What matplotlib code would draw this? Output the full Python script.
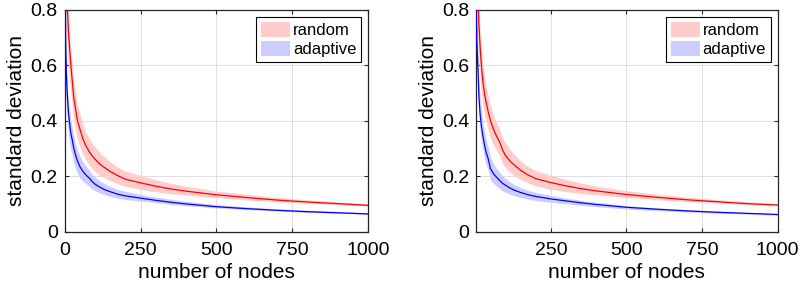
import matplotlib
matplotlib.use("Agg")
import matplotlib.pyplot as plt
import numpy as np
from matplotlib.patches import Patch

plt.rcParams["font.family"] = ["Liberation Sans", "DejaVu Sans"]

# sample points (number of nodes) and values
n_left = [1, 3, 5, 8, 12, 16, 20, 25, 30, 36, 42, 50, 60, 70, 80, 90, 100,
          115, 130, 150, 175, 200, 250, 300, 350, 400, 500, 600, 700, 800, 900, 1000]
red_left = [1.6, 1.2, 1.0, 0.82, 0.72, 0.66, 0.6, 0.54, 0.48, 0.44, 0.40, 0.37,
            0.335, 0.31, 0.29, 0.275, 0.262, 0.245, 0.233, 0.218, 0.203, 0.19,
            0.177, 0.165, 0.155, 0.147, 0.134, 0.124, 0.115, 0.108, 0.102, 0.096]
blue_left = [1.1, 0.68, 0.58, 0.5, 0.43, 0.39, 0.355, 0.33, 0.3, 0.275, 0.255,
             0.235, 0.218, 0.205, 0.195, 0.182, 0.172, 0.162, 0.153, 0.145, 0.136,
             0.13, 0.122, 0.114, 0.107, 0.101, 0.091, 0.084, 0.078, 0.073, 0.069, 0.065]

n_right = [2, 3, 5, 8, 12, 16, 20, 25, 30, 36, 42, 50, 60, 70, 80, 90, 100,
           115, 130, 150, 175, 200, 250, 300, 350, 400, 500, 600, 700, 800, 900, 1000]
red_right = [1.3, 1.15, 1.0, 0.85, 0.74, 0.66, 0.6, 0.54, 0.5, 0.465, 0.435, 0.40,
             0.37, 0.345, 0.325, 0.295, 0.275, 0.255, 0.24, 0.222, 0.205, 0.192,
             0.178, 0.166, 0.156, 0.148, 0.135, 0.125, 0.116, 0.109, 0.102, 0.097]
blue_right = [0.95, 0.8, 0.68, 0.6, 0.48, 0.42, 0.38, 0.345, 0.315, 0.285, 0.265,
              0.228, 0.21, 0.197, 0.186, 0.175, 0.168, 0.158, 0.15, 0.142, 0.134,
              0.128, 0.119, 0.112, 0.105, 0.099, 0.089, 0.082, 0.076, 0.071, 0.067, 0.063]

# half-width of the shaded bands
red_spread = [0.1, 0.1, 0.1, 0.1, 0.1, 0.09, 0.08, 0.075, 0.07, 0.065, 0.06, 0.06,
              0.055, 0.05, 0.048, 0.046, 0.045, 0.042, 0.038, 0.034, 0.03, 0.028,
              0.025, 0.022, 0.019, 0.016, 0.012, 0.01, 0.008, 0.006, 0.005, 0.004]
blue_spread = [0.08, 0.07, 0.065, 0.06, 0.06, 0.06, 0.055, 0.05, 0.048, 0.045, 0.042,
               0.04, 0.035, 0.032, 0.03, 0.027, 0.025, 0.022, 0.02, 0.018, 0.016,
               0.015, 0.012, 0.01, 0.009, 0.008, 0.006, 0.005, 0.004, 0.004, 0.003, 0.003]

x_ticks_left = [0, 250, 500, 750, 1000]
x_ticks_right = [250, 500, 750, 1000]
y_ticks = [0, 0.2, 0.4, 0.6, 0.8]
y_labels = ["0", "0.2", "0.4", "0.6", "0.8"]
legend_labels = ["random", "adaptive"]

RED_FILL = (1.0, 0.8, 0.8)
BLUE_FILL = (0.8, 0.8, 1.0)
EDGE = (0.15, 0.15, 0.15)


def draw_panel(ax, n, red, blue, xmin, xticks):
    n = np.array(n, dtype=float)
    red = np.array(red)
    blue = np.array(blue)
    rs = np.array(red_spread)
    bs = np.array(blue_spread)

    ax.fill_between(n, red - rs, red + rs, color=RED_FILL, lw=0, zorder=1)
    ax.fill_between(n, blue - bs, blue + bs, color=BLUE_FILL, lw=0, zorder=1)
    ax.plot(n, red, color="red", lw=0.9, zorder=3)
    ax.plot(n, blue, color="blue", lw=0.9, zorder=3)

    ax.set_xlim(xmin, 1000)
    ax.set_ylim(0, 0.8)
    ax.set_xticks(xticks)
    ax.set_yticks(y_ticks)
    ax.set_yticklabels(y_labels)
    ax.grid(True, color=(0.87, 0.87, 0.87), lw=0.7, zorder=0)
    ax.set_axisbelow(True)
    ax.tick_params(direction="in", length=3, width=0.8, top=True, right=True,
                   labelsize=14, colors=EDGE)
    ax.tick_params(axis="x", pad=7)
    ax.tick_params(axis="y", pad=5)
    for lab in ax.get_xticklabels() + ax.get_yticklabels():
        lab.set_color("black")
    for s in ax.spines.values():
        s.set_color(EDGE)
        s.set_linewidth(0.9)
    ax.set_xlabel("number of nodes", fontsize=15, labelpad=3)
    ax.set_ylabel("standard deviation", fontsize=15, labelpad=3)

    handles = [Patch(facecolor=RED_FILL, edgecolor="none"),
               Patch(facecolor=BLUE_FILL, edgecolor="none")]
    leg = ax.legend(handles, legend_labels, loc="upper right", fontsize=12,
                    fancybox=False, framealpha=1, edgecolor="black",
                    borderaxespad=0.4, handlelength=1.75, handleheight=1.0,
                    handletextpad=0.15, labelspacing=0.2, borderpad=0.3)
    leg.get_frame().set_linewidth(0.8)


fig = plt.figure(figsize=(8.0, 2.94), dpi=100)
ax1 = fig.add_axes([0.081, 0.211, 0.379, 0.755])
ax2 = fig.add_axes([0.595, 0.211, 0.377, 0.755])

draw_panel(ax1, n_left, red_left, blue_left, 0, x_ticks_left)
draw_panel(ax2, n_right, red_right, blue_right, 2, x_ticks_right)

fig.savefig("out.png", dpi=100)
